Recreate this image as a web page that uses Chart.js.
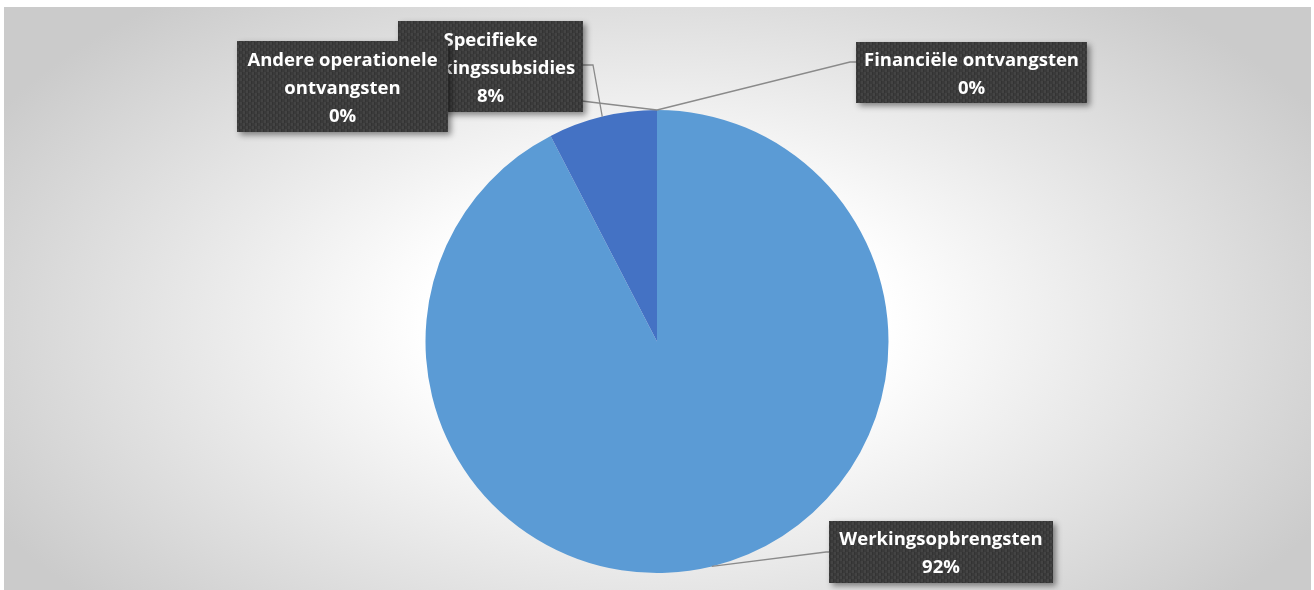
<!DOCTYPE html>
<html>
<head>
<meta charset="utf-8">
<script src="https://cdn.jsdelivr.net/npm/chart.js@4.4.1/dist/chart.umd.min.js"></script>
<style>
  html, body { margin: 0; padding: 0; background: #ffffff; }
  #wrap { position: relative; width: 1314px; height: 590px; }
</style>
</head>
<body>
<div id="wrap"><canvas id="c" width="1314" height="590"></canvas></div>
<script>
// Revenue breakdown (share of total, %)
const categories = [
  'Werkingsopbrengsten',
  'Specifieke werkingssubsidies',
  'Andere operationele ontvangsten',
  'Financiële ontvangsten'
];
const shares = [92.4, 7.6, 0, 0];
const sliceColors = ['#5B9BD5', '#4472C4', '#A5A5A5', '#FFC000'];

// Callout placement for each category (same order as categories)
const callouts = [
  { box: [829, 521, 224, 62], path: [[826, 552], [829, 552]] },
  { box: [398, 21, 185, 91],  path: [[593, 65], [583, 65]] },
  { box: [237, 41, 211, 91],  path: [[448, 85]] },
  { box: [856, 42, 231, 61],  path: [[850, 62], [856, 62]] }
];
// draw order: later boxes sit on top
const drawOrder = [0, 3, 1, 2];

const LABEL_FONT = 'bold 18.5px "Open Sans", Lato, sans-serif';
const LINE_H = 28;

function makeTexture() {
  const t = document.createElement('canvas');
  t.width = 6; t.height = 6;
  const g = t.getContext('2d');
  g.fillStyle = '#3a3a3a';
  g.fillRect(0, 0, 6, 6);
  g.fillStyle = '#444444';
  g.fillRect(0, 0, 3, 3);
  g.fillRect(3, 3, 3, 3);
  g.fillStyle = '#333333';
  g.fillRect(2, 0, 1, 3);
  g.fillRect(5, 3, 1, 3);
  return t;
}

function wrapText(ctx, text, maxW) {
  const words = text.split(' ');
  const lines = [];
  let cur = '';
  for (const w of words) {
    const test = cur ? cur + ' ' + w : w;
    if (cur && ctx.measureText(test).width > maxW) {
      lines.push(cur);
      cur = w;
    } else {
      cur = test;
    }
  }
  if (cur) lines.push(cur);
  return lines;
}

const backdrop = {
  id: 'backdrop',
  beforeDraw(chart) {
    const ctx = chart.ctx;
    ctx.save();
    ctx.fillStyle = '#ffffff';
    ctx.fillRect(0, 0, chart.width, chart.height);
    const x0 = 4, y0 = 7, w = 1307, h = 583;
    ctx.beginPath();
    ctx.rect(x0, y0, w, h);
    ctx.clip();
    ctx.translate(657, 320);
    ctx.scale(760, 420);
    const g = ctx.createRadialGradient(0, 0, 0, 0, 0, 1);
    g.addColorStop(0, '#ffffff');
    g.addColorStop(0.3, '#ffffff');
    g.addColorStop(1, '#cbcbcb');
    ctx.fillStyle = g;
    ctx.fillRect(-2, -2, 4, 4);
    ctx.restore();
  }
};

const callout = {
  id: 'callout',
  afterDatasetsDraw(chart) {
    const ctx = chart.ctx;
    const arcs = chart.getDatasetMeta(0).data;
    const total = shares.reduce((a, b) => a + b, 0);
    const pattern = ctx.createPattern(makeTexture(), 'repeat');
    ctx.save();

    // leader lines
    ctx.strokeStyle = '#8a8a8a';
    ctx.lineWidth = 1.3;
    arcs.forEach((arc, i) => {
      const p = arc.getProps(['x', 'y', 'startAngle', 'endAngle', 'outerRadius'], true);
      const mid = (p.startAngle + p.endAngle) / 2;
      ctx.beginPath();
      ctx.moveTo(p.x + Math.cos(mid) * p.outerRadius, p.y + Math.sin(mid) * p.outerRadius);
      callouts[i].path.forEach(pt => ctx.lineTo(pt[0], pt[1]));
      ctx.stroke();
    });

    // label boxes
    drawOrder.forEach(i => {
      const [bx, by, bw, bh] = callouts[i].box;
      ctx.save();
      ctx.shadowColor = 'rgba(0,0,0,0.45)';
      ctx.shadowBlur = 6;
      ctx.shadowOffsetX = 3;
      ctx.shadowOffsetY = 3;
      ctx.fillStyle = '#3a3a3a';
      ctx.fillRect(bx, by, bw, bh);
      ctx.restore();
      ctx.fillStyle = pattern;
      ctx.fillRect(bx, by, bw, bh);

      ctx.font = LABEL_FONT;
      ctx.fillStyle = '#ffffff';
      ctx.textAlign = 'center';
      ctx.textBaseline = 'alphabetic';
      const pct = Math.round(shares[i] / total * 100) + '%';
      const lines = wrapText(ctx, categories[i], bw - 8).concat([pct]);
      const top = by + (bh - lines.length * LINE_H) / 2;
      lines.forEach((ln, k) => {
        ctx.fillText(ln, bx + bw / 2, top + k * LINE_H + 21);
      });
    });
    ctx.restore();
  }
};

new Chart(document.getElementById('c'), {
  type: 'pie',
  data: {
    labels: categories,
    datasets: [{
      data: shares,
      backgroundColor: sliceColors,
      borderWidth: 0
    }]
  },
  options: {
    responsive: false,
    animation: false,
    layout: { padding: { top: 110, bottom: 17, left: 0, right: 0 } },
    plugins: {
      legend: { display: false },
      tooltip: { enabled: false }
    }
  },
  plugins: [backdrop, callout]
});
</script>
</body>
</html>
